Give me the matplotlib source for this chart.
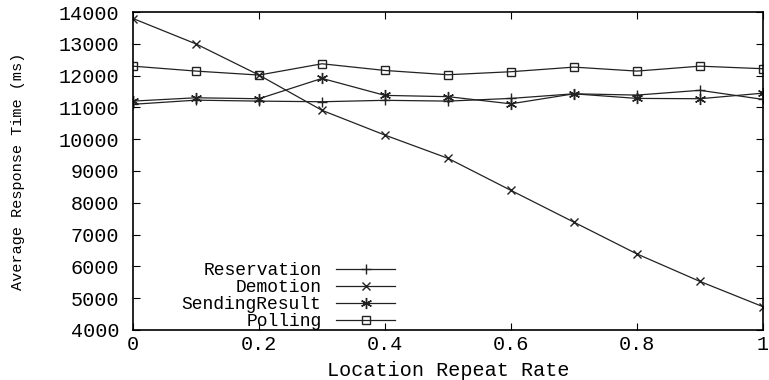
import matplotlib
matplotlib.use("Agg")
import matplotlib.pyplot as plt

x = [0.0, 0.1, 0.2, 0.3, 0.4, 0.5, 0.6, 0.7, 0.8, 0.9, 1.0]
reservation = [11100, 11230, 11200, 11180, 11225, 11200, 11285, 11430, 11390, 11540, 11255]
demotion = [13800, 13000, 12020, 10910, 10130, 9400, 8390, 7390, 6390, 5525, 4730]
sending_result = [11200, 11305, 11275, 11915, 11380, 11340, 11115, 11430, 11285, 11275, 11450]
polling = [12300, 12145, 12020, 12375, 12165, 12030, 12125, 12270, 12145, 12300, 12220]

labels = ["Reservation", "Demotion", "SendingResult", "Polling"]
xticks = [0, 0.2, 0.4, 0.6, 0.8, 1]
xticklabels = ["0", "0.2", "0.4", "0.6", "0.8", "1"]
yticks = list(range(4000, 14001, 1000))

plt.rcParams['font.family'] = ['Liberation Mono', 'DejaVu Sans Mono']
FS = 14.5
LFS = 13

fig = plt.figure(figsize=(7.69, 3.80), dpi=100)
ax = fig.add_axes([0.173, 0.132, 0.819, 0.836])

lc = '#222222'
lw = 0.9
ax.plot(x, reservation, color=lc, lw=lw, marker='+', ms=7, mew=1.0, label=labels[0])
ax.plot(x, demotion, color=lc, lw=lw, marker='x', ms=6, mew=1.0, label=labels[1])
ax.plot(x, sending_result, color=lc, lw=lw, marker=(6, 2, 0), ms=8, mew=1.0, label=labels[2])
ax.plot(x, polling, color=lc, lw=lw, marker='s', ms=6, mew=1.0, mfc='none', label=labels[3])

ax.set_xlim(0, 1)
ax.set_ylim(4000, 14000)
ax.set_xticks(xticks)
ax.set_xticklabels(xticklabels)
ax.set_yticks(yticks)
ax.tick_params(direction='in', top=True, right=True, length=5, width=0.8,
               labelsize=FS, colors='black')
ax.tick_params(axis='x', pad=4)
ax.tick_params(axis='y', pad=10)
for s in ax.spines.values():
    s.set_linewidth(1.2)

ax.set_xlabel("Location Repeat Rate", fontsize=FS, labelpad=5)
ax.set_ylabel("Average Response Time (ms)", fontsize=11, labelpad=24)

leg = ax.legend(loc='lower left', bbox_to_anchor=(0.06, -0.035), frameon=False,
                markerfirst=False, fontsize=LFS, handlelength=3.3, handletextpad=0.8,
                labelspacing=0.0, borderaxespad=0.2)
try:
    vp = leg._legend_box._children[-1]._children[0]
    vp.align = "right"
except Exception:
    pass

fig.savefig("out.png", dpi=100)
